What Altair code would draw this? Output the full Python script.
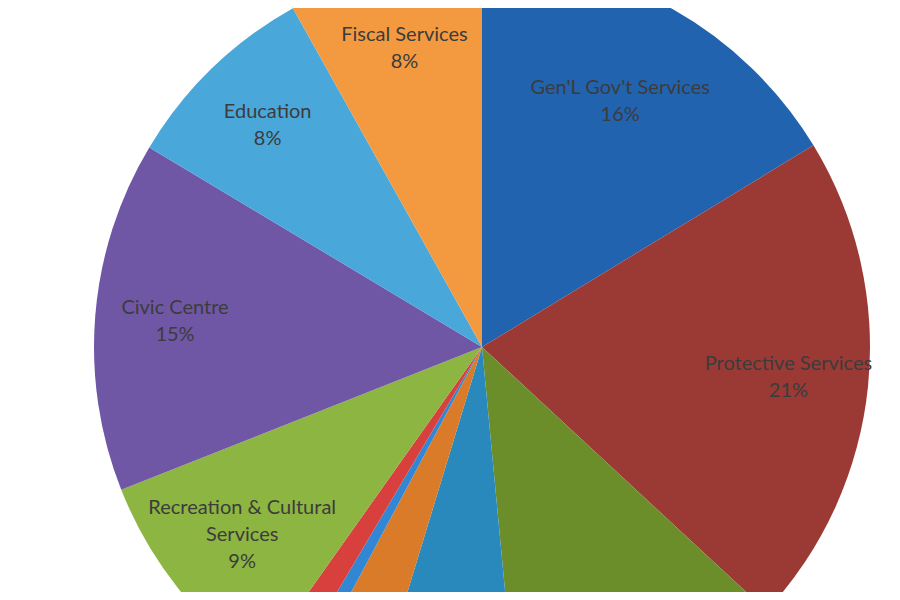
import altair as alt
import pandas as pd

# budget share by service area, clockwise from 12 o'clock
names = [
    "Gen'L Gov't Services",
    "Protective Services",
    "Transportation Services",
    "Environmental Services",
    "Health Services",
    "Social & Family Services",
    "Planning & Development",
    "Recreation & Cultural Services",
    "Civic Centre",
    "Education",
    "Fiscal Services",
]
label_names = [
    "Gen'L Gov't Services",
    "Protective Services",
    "Transportation Services",
    "Environmental Services",
    "Health Services",
    "Social & Family Services",
    "Planning & Development",
    "Recreation & Cultural\nServices",
    "Civic Centre",
    "Education",
    "Fiscal Services",
]
values = [16.3, 20.6, 11.6, 6.2, 3.1, 0.7, 1.3, 9.2, 14.6, 8.3, 8.1]
colors = [
    "#2163ae", "#9b3935", "#6b8e2b", "#2a89bc", "#d97b29", "#3287d4",
    "#d8403e", "#8db541", "#6f57a6", "#4aa7d9", "#f39a41",
]

total = sum(values)
labels_txt = [f"{n}\n{round(v / total * 100)}%" for n, v in zip(label_names, values)]

df = pd.DataFrame({
    "idx": range(len(names)),
    "name": names,
    "value": values,
    "label": labels_txt,
    "lines": [t.count("\n") + 1 for t in labels_txt],
})

base = alt.Chart(df).encode(
    theta=alt.Theta("value:Q", stack=True),
    order=alt.Order("idx:Q"),
    x=alt.value(474),
    y=alt.value(339),
)

pie = base.mark_arc(radius=388).encode(
    color=alt.Color("name:N", scale=alt.Scale(domain=names, range=colors), legend=None)
)

text_style = dict(font="Lato", fontSize=20, color="#3c3c3c", lineBreak="\n", lineHeight=27)


def label_layer(cond, radius, dy):
    # every layer keeps all rows so its stack matches the pie; it blanks the labels it doesn't own
    return base.transform_calculate(
        shown=f"{cond} ? datum.label : ''"
    ).mark_text(radius=radius, dy=dy, **text_style).encode(text="shown:N")


# tiny slices (< 5%) are labelled outside the pie, off the page, so they stay blank
labels_main = label_layer("datum.value >= 5 && datum.lines == 2 && datum.idx > 0", 308, -13.5)
labels_first = label_layer("datum.idx == 0", 282, -13.5)  # best-fit sits lower in the first slice
labels_three = label_layer("datum.value >= 5 && datum.lines == 3", 305, -27)

chart = (
    alt.layer(pie, labels_main, labels_first, labels_three)
    .properties(width=884, height=584, autosize=alt.AutoSizeParams(type="none"), padding=0)
    .configure_view(stroke=None)
)

chart.save("out.html", embed_options={"renderer": "svg", "actions": False})
